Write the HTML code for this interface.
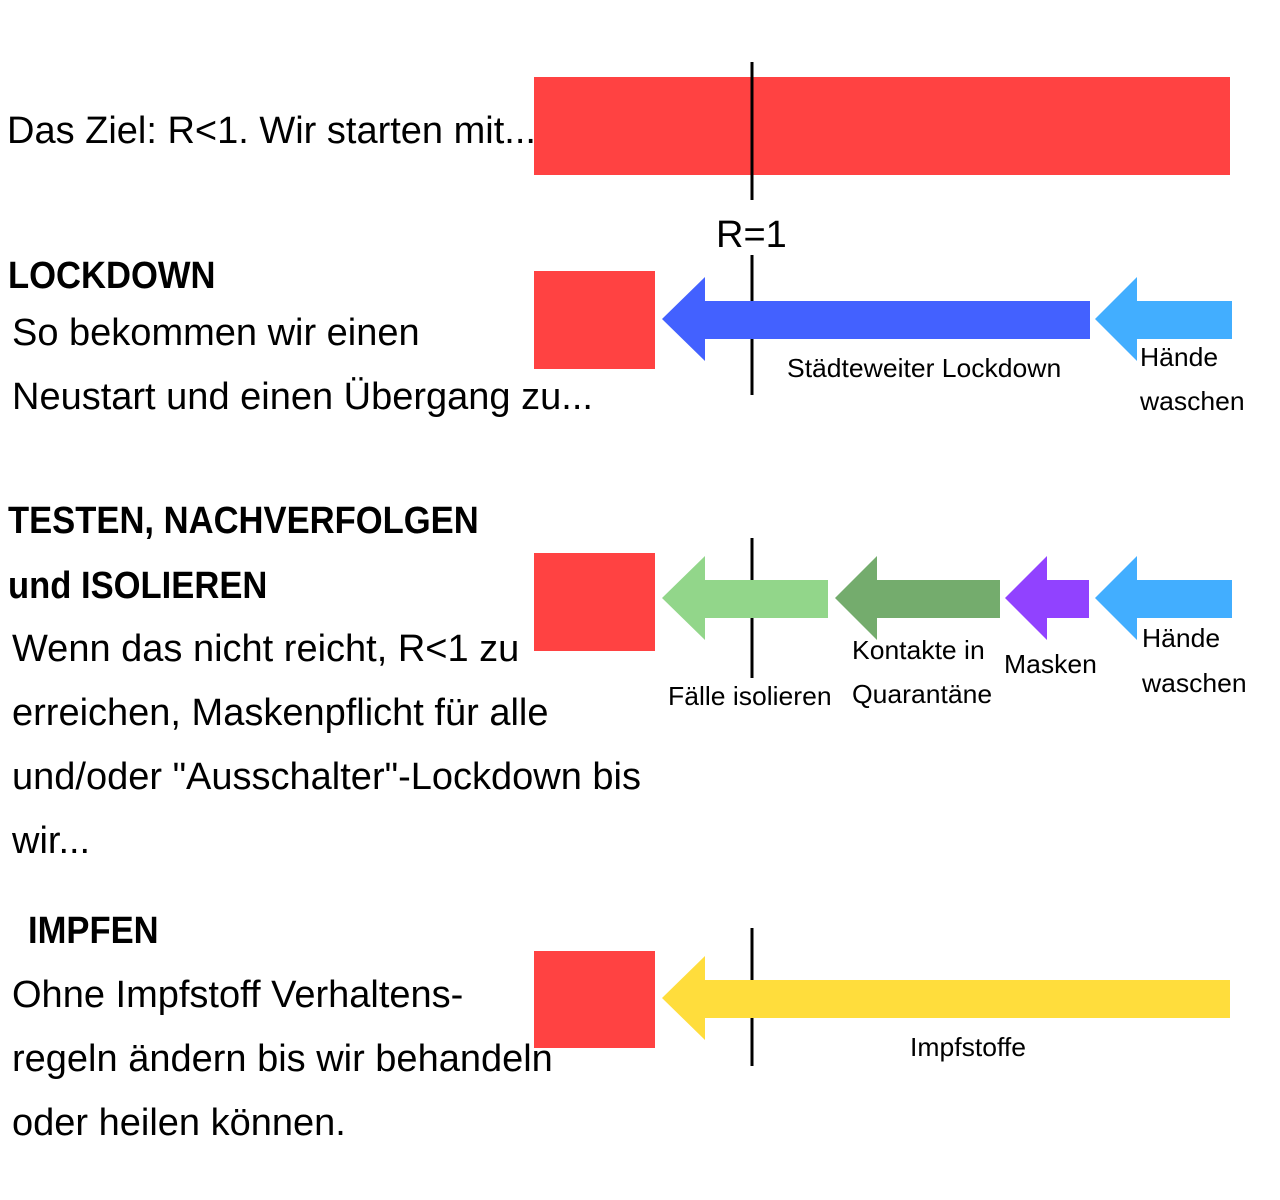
<!DOCTYPE html>
<html><head><meta charset="utf-8"><style>
body{margin:0;width:1280px;height:1200px;background:#fff;position:relative;overflow:hidden;font-family:"Liberation Sans",sans-serif;color:#000}
.t{position:absolute;white-space:nowrap;transform-origin:0 50%;transform:scaleX(1.0);line-height:1}
.b{font-weight:bold;transform:scaleX(0.91)}
.s{font-size:26px;transform:scaleX(1.02)}
</style></head><body>
<svg width="1280" height="1200" style="position:absolute;left:0;top:0">
<rect x="534" y="77" width="696" height="98" fill="#FF4242"/>
<rect x="534" y="271" width="121" height="98" fill="#FF4242"/>
<rect x="534" y="553" width="121" height="98" fill="#FF4242"/>
<rect x="534" y="951" width="121" height="97" fill="#FF4242"/>
<g stroke="#000" stroke-width="3">
<line x1="752" y1="62" x2="752" y2="200"/>
<line x1="752" y1="255" x2="752" y2="395"/>
<line x1="752" y1="538" x2="752" y2="678"/>
<line x1="752" y1="928" x2="752" y2="1066"/>
</g>
<polygon points="662,319 705,277 705,301 1090,301 1090,339 705,339 705,361" fill="#4361FF"/>
<polygon points="1095,319 1137,277 1137,301 1232,301 1232,339 1137,339 1137,361" fill="#42AEFF"/>
<polygon points="662,598 705,556 705,580 828,580 828,618 705,618 705,640" fill="#92D68A"/>
<polygon points="835,598 877,556 877,580 1000,580 1000,618 877,618 877,640" fill="#74AC6D"/>
<polygon points="1005,598 1047,556 1047,580 1089,580 1089,618 1047,618 1047,640" fill="#9142FF"/>
<polygon points="1095,598 1137,556 1137,580 1232,580 1232,618 1137,618 1137,640" fill="#42AEFF"/>
<polygon points="662,998 705,956 705,980 1230,980 1230,1018 705,1018 705,1040" fill="#FFDD3C"/>
</svg>
<div class="t" style="left:7px;top:112px;font-size:38px">Das Ziel: R&lt;1. Wir starten mit...</div>
<div class="t" style="left:716px;top:216px;font-size:38px">R=1</div>
<div class="t b" style="left:8px;top:257px;font-size:38px">LOCKDOWN</div>
<div class="t" style="left:12px;top:314px;font-size:38px">So bekommen wir einen</div>
<div class="t" style="left:12px;top:378px;font-size:38px">Neustart und einen Übergang zu...</div>
<div class="t s" style="left:787px;top:355px">Städteweiter Lockdown</div>
<div class="t s" style="left:1140px;top:344px">Hände</div>
<div class="t s" style="left:1140px;top:388px">waschen</div>
<div class="t b" style="left:8px;top:502px;font-size:38px">TESTEN, NACHVERFOLGEN</div>
<div class="t b" style="left:8px;top:567px;font-size:38px">und ISOLIEREN</div>
<div class="t" style="left:12px;top:630px;font-size:38px">Wenn das nicht reicht, R&lt;1 zu</div>
<div class="t" style="left:12px;top:694px;font-size:38px">erreichen, Maskenpflicht für alle</div>
<div class="t" style="left:12px;top:758px;font-size:38px">und/oder "Ausschalter"-Lockdown bis</div>
<div class="t" style="left:12px;top:822px;font-size:38px">wir...</div>
<div class="t s" style="left:852px;top:637px">Kontakte in</div>
<div class="t s" style="left:852px;top:681px">Quarantäne</div>
<div class="t s" style="left:668px;top:683px">Fälle isolieren</div>
<div class="t s" style="left:1004px;top:651px">Masken</div>
<div class="t s" style="left:1142px;top:625px">Hände</div>
<div class="t s" style="left:1142px;top:670px">waschen</div>
<div class="t b" style="left:28px;top:912px;font-size:38px">IMPFEN</div>
<div class="t" style="left:12px;top:976px;font-size:38px">Ohne Impfstoff Verhaltens-</div>
<div class="t" style="left:12px;top:1040px;font-size:38px">regeln ändern bis wir behandeln</div>
<div class="t" style="left:12px;top:1104px;font-size:38px">oder heilen können.</div>
<div class="t s" style="left:910px;top:1034px">Impfstoffe</div>
</body></html>
